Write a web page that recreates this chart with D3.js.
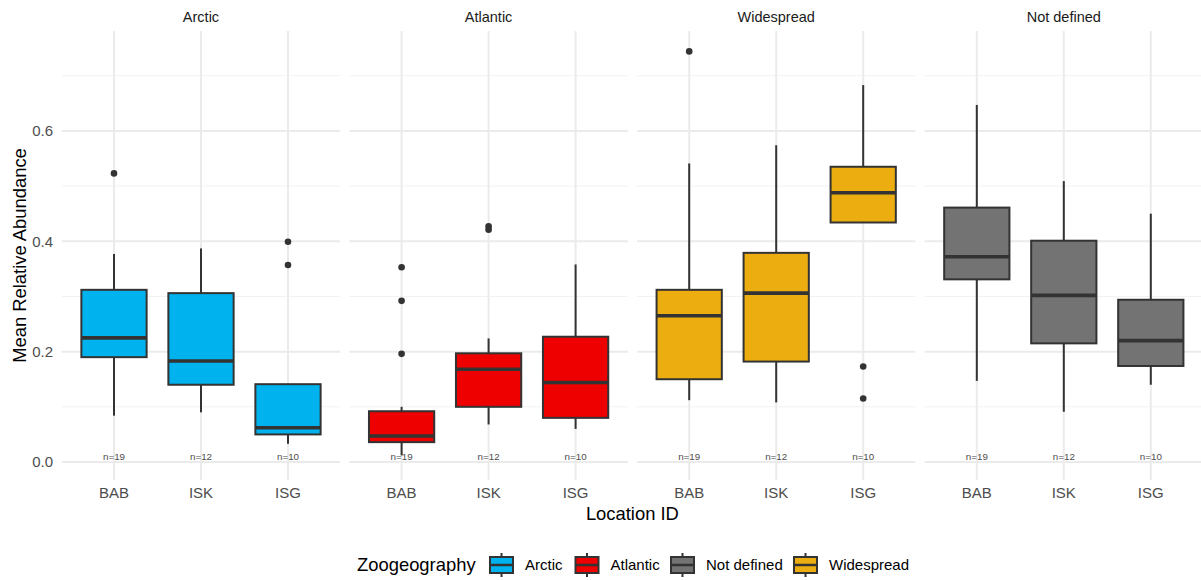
<!DOCTYPE html>
<html>
<head>
<meta charset="utf-8">
<script src="https://cdn.jsdelivr.net/npm/d3@7"></script>
<style>
  html, body { margin: 0; padding: 0; background: #fff; }
  svg { display: block; font-family: "Liberation Sans", Arial, sans-serif; }
</style>
</head>
<body>
<svg id="chart" width="1201" height="580"></svg>
<script>
// ---- data ----
const zones = ["Arctic", "Atlantic", "Widespread", "Not defined"];
const locations = ["BAB", "ISK", "ISG"];
const nLabels = ["n=19", "n=12", "n=10"];
const yTicks = [0.0, 0.2, 0.4, 0.6];
const yMinorTicks = [0.1, 0.3, 0.5, 0.7];
// per zone (rows) per location (cols: BAB, ISK, ISG)
const whiskerLow = [
  [0.084, 0.090, 0.033],
  [0.012, 0.068, 0.060],
  [0.112, 0.108, 0.434],
  [0.147, 0.091, 0.140]
];
const q1 = [
  [0.190, 0.140, 0.050],
  [0.036, 0.100, 0.080],
  [0.150, 0.182, 0.434],
  [0.331, 0.215, 0.174]
];
const medians = [
  [0.225, 0.183, 0.062],
  [0.047, 0.168, 0.144],
  [0.265, 0.306, 0.488],
  [0.372, 0.302, 0.220]
];
const q3 = [
  [0.312, 0.306, 0.141],
  [0.092, 0.197, 0.227],
  [0.312, 0.379, 0.535],
  [0.461, 0.401, 0.294]
];
const whiskerHigh = [
  [0.377, 0.387, 0.141],
  [0.100, 0.224, 0.358],
  [0.541, 0.574, 0.683],
  [0.647, 0.509, 0.450]
];
const outliers = [
  [[0.523], [], [0.399, 0.357]],
  [[0.353, 0.292, 0.196], [0.427, 0.421], []],
  [[0.744], [], [0.173, 0.115]],
  [[], [], []]
];
const legendOrder = ["Arctic", "Atlantic", "Not defined", "Widespread"];
const zoneColors = ["#00B2EE", "#EE0000", "#EBAD10", "#737373"];

// ---- layout ----
const svg = d3.select("#chart");
const panelTop = 31, panelBottom = 480;
const panelsLeft = 61.8, panelsRight = 1203;

const color = d3.scaleOrdinal().domain(zones).range(zoneColors);
const facet = d3.scaleBand().domain(zones).range([panelsLeft, panelsRight]).paddingInner(0.032).paddingOuter(0);
const pw = facet.bandwidth();
const x = d3.scalePoint().domain(locations).range([0, pw]).padding(0.6);
const boxW = x.step() * 0.75;
const y = d3.scaleLinear().domain([-0.0326, 0.781]).range([panelBottom, panelTop]);

const ink = "#333333";

// Y axis tick labels (only left)
svg.append("g").selectAll("text").data(yTicks).join("text")
  .attr("x", 53).attr("y", d => y(d)).attr("dy", "0.35em")
  .attr("text-anchor", "end").attr("font-size", 15).attr("fill", "#4D4D4D")
  .text(d => d3.format(".1f")(d));

zones.forEach((z, zi) => {
  const g = svg.append("g").attr("transform", `translate(${facet(z)},0)`);
  // minor grid
  g.selectAll(".minor").data(yMinorTicks).join("line")
    .attr("x1", 0).attr("x2", pw).attr("y1", d => y(d)).attr("y2", d => y(d))
    .attr("stroke", "#F2F2F2").attr("stroke-width", 1);
  // major grid
  g.selectAll(".major").data(yTicks).join("line")
    .attr("x1", 0).attr("x2", pw).attr("y1", d => y(d)).attr("y2", d => y(d))
    .attr("stroke", "#EBEBEB").attr("stroke-width", 2);
  g.selectAll(".vgrid").data(locations).join("line")
    .attr("x1", d => x(d)).attr("x2", d => x(d)).attr("y1", panelTop).attr("y2", panelBottom)
    .attr("stroke", "#EBEBEB").attr("stroke-width", 2);

  // strip label
  svg.append("text").attr("x", facet(z) + pw / 2).attr("y", 17).attr("dy", "0.35em")
    .attr("text-anchor", "middle").attr("font-size", 14.5).attr("fill", "#1A1A1A").text(z);

  // x tick labels
  g.selectAll(".xl").data(locations).join("text")
    .attr("x", d => x(d)).attr("y", 493).attr("dy", "0.35em")
    .attr("text-anchor", "middle").attr("font-size", 15).attr("fill", "#4D4D4D").text(d => d);

  const c = color(z);
  locations.forEach((loc, li) => {
    const cx = x(loc);
    // whiskers
    g.append("line").attr("x1", cx).attr("x2", cx)
      .attr("y1", y(q3[zi][li])).attr("y2", y(whiskerHigh[zi][li]))
      .attr("stroke", ink).attr("stroke-width", 2);
    g.append("line").attr("x1", cx).attr("x2", cx)
      .attr("y1", y(q1[zi][li])).attr("y2", y(whiskerLow[zi][li]))
      .attr("stroke", ink).attr("stroke-width", 2);
    // box
    g.append("rect").attr("x", cx - boxW / 2).attr("width", boxW)
      .attr("y", y(q3[zi][li])).attr("height", y(q1[zi][li]) - y(q3[zi][li]))
      .attr("fill", c).attr("stroke", ink).attr("stroke-width", 2);
    // median
    g.append("line").attr("x1", cx - boxW / 2).attr("x2", cx + boxW / 2)
      .attr("y1", y(medians[zi][li])).attr("y2", y(medians[zi][li]))
      .attr("stroke", ink).attr("stroke-width", 3.6);
    // outliers
    g.selectAll(null).data(outliers[zi][li]).join("circle")
      .attr("cx", cx).attr("cy", d => y(d)).attr("r", 3.3).attr("fill", ink);
    // n label
    g.append("text").attr("x", cx).attr("y", y(0.01)).attr("dy", "0.35em")
      .attr("text-anchor", "middle").attr("font-size", 9.8).attr("fill", "#4D4D4D")
      .text(nLabels[li]);
  });
});

// axis titles
svg.append("text").attr("x", (panelsLeft + panelsRight) / 2).attr("y", 514).attr("dy", "0.35em")
  .attr("text-anchor", "middle").attr("font-size", 18.4).attr("fill", "#000").text("Location ID");
svg.append("text").attr("transform", `translate(20,${(panelTop + panelBottom) / 2}) rotate(-90)`)
  .attr("dy", "0.35em").attr("text-anchor", "middle").attr("font-size", 18.4).attr("fill", "#000")
  .text("Mean Relative Abundance");

// legend
const lg = svg.append("g");
const ly = 565;
lg.append("text").attr("x", 357).attr("y", ly).attr("dy", "0.35em").attr("font-size", 18.4)
  .attr("fill", "#000").text("Zoogeography");
const keyX = [490, 575.5, 671, 794];
legendOrder.forEach((z, i) => {
  const kx = keyX[i];
  const kw = 23;
  lg.append("line").attr("x1", kx + kw / 2).attr("x2", kx + kw / 2).attr("y1", ly - 12).attr("y2", ly + 12)
    .attr("stroke", ink).attr("stroke-width", 2);
  lg.append("rect").attr("x", kx).attr("y", ly - 8).attr("width", kw).attr("height", 16)
    .attr("fill", color(z)).attr("stroke", ink).attr("stroke-width", 2);
  lg.append("line").attr("x1", kx).attr("x2", kx + kw).attr("y1", ly).attr("y2", ly)
    .attr("stroke", ink).attr("stroke-width", 2.5);
  lg.append("text").attr("x", kx + kw + 12).attr("y", ly).attr("dy", "0.35em").attr("font-size", 15)
    .attr("fill", "#000").text(z);
});
</script>
</body>
</html>
